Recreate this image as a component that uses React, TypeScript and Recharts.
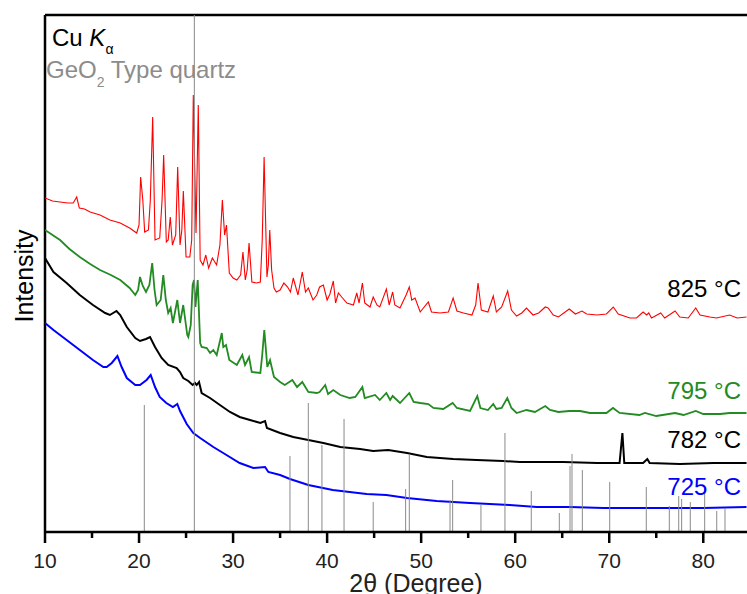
import React from "react";
import { LineChart, Line, XAxis, YAxis, ReferenceLine } from "recharts";

// 2θ (deg), intensity (a.u., offset-stacked)
const red825: [number, number][] = [
  [10.0, 334], [10.8, 331], [11.6, 330], [12.4, 329], [13.0, 329], [13.37, 335], [13.65, 324], [14.2, 323],
  [14.8, 320], [15.85, 317], [16.9, 312], [18.0, 309], [19.0, 304], [19.75, 299], [20.0, 307], [20.17, 355],
  [20.4, 332], [20.6, 300], [21.0, 302], [21.2, 332], [21.45, 415], [21.7, 292], [22.2, 294], [22.45, 332],
  [22.62, 377], [22.9, 290], [23.1, 292], [23.32, 315], [23.55, 287], [23.9, 297], [24.11, 365], [24.36, 287],
  [24.55, 302], [24.71, 341], [25.0, 275], [25.4, 275], [25.6, 292], [25.77, 437], [26.06, 299], [26.3, 427],
  [26.5, 272], [26.8, 267], [27.1, 277], [27.4, 264], [27.8, 274], [28.25, 267], [28.6, 287], [28.86, 332],
  [29.1, 297], [29.3, 307], [29.6, 259], [30.0, 254], [30.4, 252], [30.8, 257], [31.05, 280], [31.3, 252],
  [31.5, 262], [31.7, 289], [32.0, 250], [32.5, 249], [32.9, 250], [33.1, 292], [33.3, 375], [33.6, 255],
  [33.75, 267], [33.9, 302], [34.1, 262], [34.35, 244], [34.6, 240], [35.0, 242], [35.4, 249], [35.8, 245],
  [36.1, 240], [36.4, 254], [36.9, 237], [37.36, 260], [37.7, 240], [38.0, 244], [38.5, 232], [38.9, 237],
  [39.2, 245], [39.6, 247], [40.0, 232], [40.3, 238], [40.66, 251], [40.9, 229], [41.2, 239], [41.55, 235],
  [42.1, 229], [42.8, 227], [43.15, 239], [43.4, 229], [43.75, 249], [44.0, 229], [44.56, 225], [44.9, 235],
  [45.3, 227], [45.6, 225], [46.3, 243], [46.6, 227], [46.97, 240], [47.2, 227], [47.75, 224], [48.4, 237],
  [48.74, 245], [49.0, 232], [49.35, 234], [49.9, 220], [50.76, 230], [51.1, 220], [52.0, 219], [52.9, 220],
  [53.4, 234], [53.8, 221], [54.5, 219], [55.4, 217], [55.8, 227], [56.05, 249], [56.4, 222], [57.1, 220],
  [57.67, 236], [58.0, 220], [58.56, 225], [59.2, 241], [59.6, 222], [60.15, 216], [60.7, 219], [61.2, 224],
  [61.9, 217], [62.5, 219], [63.2, 225], [63.5, 224], [64.05, 217], [64.6, 215], [65.75, 223], [66.4, 218],
  [67.1, 221], [67.6, 218], [68.7, 217], [69.7, 218], [70.43, 225], [70.96, 218], [72.2, 214], [72.9, 214],
  [73.6, 220], [73.98, 217], [74.2, 219], [74.5, 214], [75.47, 219], [75.9, 214], [77.0, 221], [77.5, 215],
  [78.4, 214], [79.2, 224], [79.65, 217], [80.7, 215], [81.4, 214], [82.8, 217], [83.6, 214], [84.6, 215],
];

const green795: [number, number][] = [
  [10.0, 302], [10.8, 297], [11.6, 292], [12.6, 283], [13.7, 275], [14.8, 268], [15.85, 262], [17.0, 257],
  [18.0, 252], [19.0, 244], [19.6, 237], [19.9, 242], [20.1, 255], [20.4, 246], [20.74, 240], [21.1, 247],
  [21.4, 269], [21.65, 242], [21.87, 227], [22.3, 232], [22.58, 257], [22.85, 232], [23.1, 219], [23.36, 224],
  [23.6, 209], [24.07, 232], [24.36, 209], [24.7, 227], [25.13, 197], [25.24, 195], [25.5, 207], [25.7, 247],
  [25.85, 252], [26.0, 225], [26.24, 252], [26.5, 189], [26.66, 185], [27.2, 184], [27.55, 179], [27.9, 182],
  [28.26, 177], [28.8, 199], [28.96, 185], [29.25, 187], [29.6, 172], [30.4, 167], [30.98, 177], [31.27, 167],
  [31.7, 175], [31.98, 160], [32.9, 159], [33.1, 177], [33.32, 202], [33.64, 165], [33.93, 172], [34.35, 155],
  [35.0, 150], [35.5, 147], [36.3, 152], [36.8, 145], [37.36, 150], [38.0, 140], [38.9, 139], [39.2, 140],
  [39.8, 147], [40.1, 138], [40.66, 142], [41.4, 137], [42.4, 134], [43.0, 135], [43.75, 145], [44.0, 134],
  [45.1, 137], [45.6, 132], [46.3, 139], [46.7, 132], [46.97, 136], [47.75, 129], [48.74, 139], [49.2, 130],
  [49.9, 129], [50.76, 128], [51.3, 124], [52.35, 123], [53.35, 129], [53.8, 124], [55.2, 121], [55.97, 136],
  [56.3, 124], [57.1, 122], [57.67, 128], [58.0, 123], [58.56, 124], [59.16, 134], [59.6, 124], [60.15, 119],
  [61.2, 122], [62.1, 120], [63.2, 126], [63.7, 122], [64.6, 120], [65.75, 121], [66.9, 121], [67.95, 119],
  [69.7, 119], [70.4, 124], [71.1, 119], [73.2, 117], [73.8, 119], [75.0, 116], [77.0, 119], [77.9, 117],
  [79.2, 121], [80.0, 118], [81.8, 118], [82.8, 119], [84.6, 119],
];

const black782: [number, number][] = [
  [10.0, 274], [10.9, 260], [12.3, 249], [13.7, 237], [15.1, 227], [16.4, 219], [16.9, 217], [17.6, 221],
  [18.0, 217], [18.7, 205], [19.6, 194], [20.1, 191], [20.74, 193], [21.17, 195], [21.7, 185], [22.4, 174],
  [23.1, 167], [24.0, 164], [24.36, 160], [24.7, 154], [25.24, 151], [25.7, 147], [25.95, 149], [26.13, 147],
  [26.38, 150], [26.66, 139], [27.55, 134], [28.6, 127], [29.67, 120], [30.7, 115], [31.8, 112], [32.9, 109],
  [33.4, 111], [33.6, 104], [35.0, 99], [36.4, 95], [38.0, 92], [39.6, 89], [41.4, 85], [43.5, 83],
  [44.9, 81], [46.5, 82], [48.5, 79], [50.6, 75], [53.4, 73], [55.9, 72], [58.7, 71], [60.5, 70],
  [62.1, 70], [65.1, 70], [68.7, 69], [71.1, 69], [71.4, 99], [71.6, 69], [73.6, 69], [74.05, 73],
  [74.3, 69], [77.5, 68], [81.1, 69], [84.6, 69],
];

const blue725: [number, number][] = [
  [10.0, 209], [10.9, 202], [12.3, 192], [13.7, 182], [15.1, 172], [16.2, 165], [16.56, 165], [17.1, 169],
  [17.7, 176], [18.15, 165], [18.7, 154], [19.6, 147], [20.1, 147], [20.8, 152], [21.24, 157], [21.7, 145],
  [22.2, 135], [22.9, 129], [23.6, 125], [24.07, 128], [24.36, 121], [25.07, 108], [25.77, 99], [26.5, 94],
  [27.9, 85], [29.3, 77], [30.7, 69], [32.15, 64], [33.4, 65], [33.75, 60], [35.0, 57], [36.05, 53],
  [38.0, 47], [40.6, 42], [44.2, 38], [46.3, 37], [48.5, 34], [51.65, 31], [55.2, 29], [59.4, 27],
  [62.3, 25], [65.8, 25], [69.4, 24], [72.9, 24], [76.5, 24], [80.0, 24], [84.6, 25],
];

// GeO2 quartz-type reference pattern: position, stick height
const refPos = [20.56, 25.88, 36.05, 38.0, 39.45, 41.8, 44.9, 48.35, 48.74, 53.07, 53.35, 56.36, 58.91, 61.71,
  64.69, 65.83, 66.04, 67.14, 70.05, 73.94, 76.39, 77.39, 77.7, 78.62, 80.15, 81.43, 82.31];
const refHeight = [127, 517, 76, 129, 87, 113, 30, 43, 78, 32, 52, 28, 99, 41,
  19, 66, 78, 62, 50, 45, 26, 36, 33, 30, 44, 21, 24];

const xTicks = [10, 15, 20, 25, 30, 35, 40, 45, 50, 55, 60, 65, 70, 75, 80];

const seriesLabels = ["825 °C", "795 °C", "782 °C", "725 °C"];
const seriesColors = ["#ff0000", "#228B22", "#000000", "#0000ff"];
const seriesList = [red825, green795, black782, blue725];
const seriesWidths = [1.1, 1.8, 2, 2];

const FONT = "'Liberation Sans', Arial, Helvetica, sans-serif";

const toPts = (arr: [number, number][]) => arr.map(([x, y]) => ({ x, y }));

const TickMark = (props: any) => {
  const { x, y, payload } = props;
  const v = payload.value;
  const major = v % 10 === 0;
  return (
    <g>
      <line x1={x} x2={x} y1={y} y2={y + (major ? 11 : 6)} stroke="#000" strokeWidth={2.5} />
      {major && (
        <text x={x} y={y + 36} textAnchor="middle" fontSize={21} fill="#222" fontFamily={FONT}>
          {v}
        </text>
      )}
    </g>
  );
};

const W = 747;
const H = 594;

export default function App() {
  return (
    <div style={{ position: "fixed", left: 0, top: 0, width: W, height: H, fontFamily: FONT, background: "#fff" }}>
      <LineChart width={W} height={H} margin={{ top: 15, right: 0, bottom: 0, left: 45 }}>
        <XAxis
          dataKey="x"
          type="number"
          domain={[10, 84.65]}
          allowDataOverflow
          ticks={xTicks}
          interval={0}
          tickSize={0}
          tickMargin={0}
          tickLine={false}
          tick={<TickMark />}
          height={62}
          axisLine={{ stroke: "#000", strokeWidth: 2.5 }}
        />
        <YAxis type="number" domain={[0, 517]} allowDataOverflow width={0} hide />
        <ReferenceLine y={517} stroke="#000" strokeWidth={2.5} ifOverflow="visible" />
        <ReferenceLine x={10} stroke="#000" strokeWidth={2.5} ifOverflow="visible" />
        {seriesList.map((s, i) => (
          <Line
            key={seriesLabels[i]}
            data={toPts(s)}
            dataKey="y"
            type="linear"
            stroke={seriesColors[i]}
            strokeWidth={seriesWidths[i]}
            dot={false}
            isAnimationActive={false}
          />
        ))}
        {refPos.map((p, i) => (
          <ReferenceLine
            key={"ref" + i}
            segment={[{ x: p, y: 0 }, { x: p, y: refHeight[i] }]}
            stroke="#8a8a8a"
            strokeWidth={1}
            ifOverflow="visible"
          />
        ))}
      </LineChart>
      <svg width={W} height={H} style={{ position: "absolute", left: 0, top: 0, pointerEvents: "none" }}>
        <text x={52} y={46} fontSize={24} fill="#000" fontFamily={FONT}>
          Cu <tspan fontStyle="italic">K</tspan>
          <tspan fontSize={14} dy={8}>α</tspan>
        </text>
        <text x={46} y={78} fontSize={24} fill="#8c8c8c" fontFamily={FONT}>
          GeO<tspan fontSize={14} dy={9}>2</tspan>
          <tspan dy={-9}> Type quartz</tspan>
        </text>
        <text
          x={33}
          y={276}
          fontSize={25}
          fill="#000"
          textAnchor="middle"
          fontFamily={FONT}
          transform="rotate(-90, 33, 276)"
        >
          Intensity
        </text>
        <text x={416} y={592} fontSize={25} fill="#222" textAnchor="middle" fontFamily={FONT}>
          2θ (Degree)
        </text>
        <text x={741} y={297} fontSize={24} fill="#000" textAnchor="end" fontFamily={FONT}>
          {seriesLabels[0]}
        </text>
        <text x={741} y={399} fontSize={24} fill={seriesColors[1]} textAnchor="end" fontFamily={FONT}>
          {seriesLabels[1]}
        </text>
        <text x={741} y={448} fontSize={24} fill="#000" textAnchor="end" fontFamily={FONT}>
          {seriesLabels[2]}
        </text>
        <text x={741} y={495} fontSize={24} fill={seriesColors[3]} textAnchor="end" fontFamily={FONT}>
          {seriesLabels[3]}
        </text>
      </svg>
    </div>
  );
}
